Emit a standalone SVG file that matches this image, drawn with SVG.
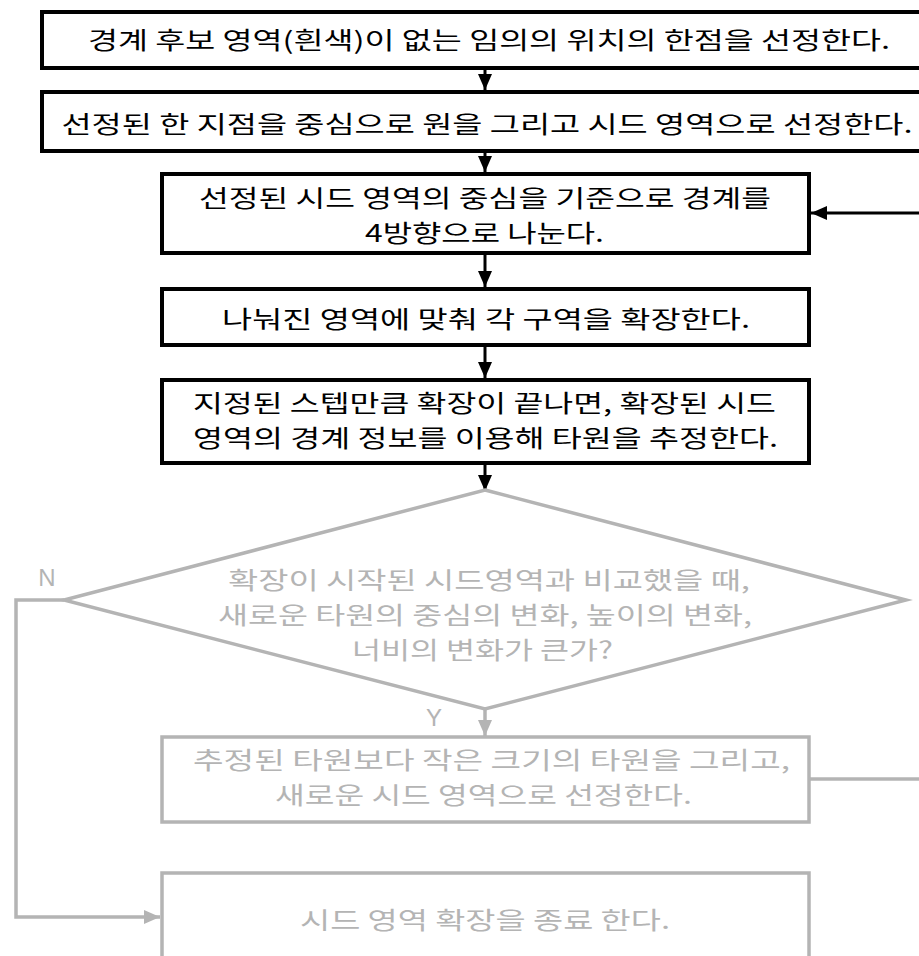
<svg xmlns="http://www.w3.org/2000/svg" width="919" height="956" viewBox="0 0 919 956">
<style>
.bk{fill:#fff;stroke:#000;stroke-width:4}
.gr{fill:#fff;stroke:#b4b4b4;stroke-width:3.5}
.t{font-family:"Noto Sans CJK KR","Noto Sans",sans-serif;font-size:24px;text-anchor:middle;dominant-baseline:central}
.tb{fill:#000}
.tg{fill:#b4b4b4}
.lbl{font-family:"Liberation Sans",Arial,sans-serif;font-size:24px;fill:#b4b4b4;text-anchor:middle;dominant-baseline:central}
.cb{fill:none;stroke:#000;stroke-width:3}
.cg{fill:none;stroke:#b4b4b4;stroke-width:3.5}
</style>
<defs>
<marker id="ab" markerUnits="userSpaceOnUse" markerWidth="16" markerHeight="14" refX="16" refY="7" orient="auto"><path d="M0,0 L16,7 L0,14 z" fill="#000"/></marker>
<marker id="ag" markerUnits="userSpaceOnUse" markerWidth="16" markerHeight="14" refX="16" refY="7" orient="auto"><path d="M0,0 L16,7 L0,14 z" fill="#b4b4b4"/></marker>
</defs>
<rect width="919" height="956" fill="#fff"/>
<g id="connectors">
<path class="cb" d="M485,70 V90" marker-end="url(#ab)"/>
<path class="cb" d="M485,153 V172" marker-end="url(#ab)"/>
<path class="cb" d="M485,255 V287" marker-end="url(#ab)"/>
<path class="cb" d="M485,347 V378" marker-end="url(#ab)"/>
<path class="cb" d="M485,465 V491" marker-end="url(#ab)"/>
<path class="cb" d="M935,213 H811" marker-end="url(#ab)"/>
<path class="cg" d="M485,709 V736" marker-end="url(#ag)"/>
<path class="cg" d="M64,600 H16 V917 H160" marker-end="url(#ag)"/>
<path class="cg" d="M809,779 H935"/>
</g>
<g id="n1">
<rect class="bk" x="42" y="12" width="886" height="56"/>
<text class="t tb" x="489" y="38" textLength="802" lengthAdjust="spacingAndGlyphs">경계 후보 영역(흰색)이 없는 임의의 위치의 한점을 선정한다.</text>
</g>
<g id="n2">
<rect class="bk" x="42" y="92" width="886" height="59"/>
<text class="t tb" x="487" y="122" textLength="851" lengthAdjust="spacingAndGlyphs">선정된 한 지점을 중심으로 원을 그리고 시드 영역으로 선정한다.</text>
</g>
<g id="n3">
<rect class="bk" x="162" y="174" width="647" height="79"/>
<text class="t tb" x="485" y="196" textLength="572" lengthAdjust="spacingAndGlyphs">선정된 시드 영역의 중심을 기준으로 경계를</text>
<text class="t tb" x="484.5" y="231" textLength="239" lengthAdjust="spacingAndGlyphs">4방향으로 나눈다.</text>
</g>
<g id="n4">
<rect class="bk" x="162" y="289" width="647" height="56"/>
<text class="t tb" x="486" y="317" textLength="528" lengthAdjust="spacingAndGlyphs">나눠진 영역에 맞춰 각 구역을 확장한다.</text>
</g>
<g id="n5">
<rect class="bk" x="162" y="380" width="647" height="83"/>
<text class="t tb" x="484.5" y="401" textLength="583" lengthAdjust="spacingAndGlyphs">지정된 스텝만큼 확장이 끝나면, 확장된 시드</text>
<text class="t tb" x="485.5" y="436" textLength="585" lengthAdjust="spacingAndGlyphs">영역의 경계 정보를 이용해 타원을 추정한다.</text>
</g>
<g id="n6">
<polygon class="gr" points="485,490 906,600 485,709 64,600"/>
<text class="t tg" x="489" y="578" textLength="522" lengthAdjust="spacingAndGlyphs">확장이 시작된 시드영역과 비교했을 때,</text>
<text class="t tg" x="485" y="613" textLength="534" lengthAdjust="spacingAndGlyphs">새로운 타원의 중심의 변화, 높이의 변화,</text>
<text class="t tg" x="482.5" y="648" textLength="261" lengthAdjust="spacingAndGlyphs">너비의 변화가 큰가?</text>
<text class="lbl" x="47" y="577">N</text>
<text class="lbl" x="434" y="717">Y</text>
</g>
<g id="n7">
<rect class="gr" x="162" y="737" width="647" height="85"/>
<text class="t tg" x="491.5" y="758" textLength="597" lengthAdjust="spacingAndGlyphs">추정된 타원보다 작은 크기의 타원을 그리고,</text>
<text class="t tg" x="483.5" y="793" textLength="417" lengthAdjust="spacingAndGlyphs">새로운 시드 영역으로 선정한다.</text>
</g>
<g id="n8">
<rect class="gr" x="162" y="873" width="647" height="110"/>
<text class="t tg" x="485" y="918" textLength="370" lengthAdjust="spacingAndGlyphs">시드 영역 확장을 종료 한다.</text>
</g>
</svg>
